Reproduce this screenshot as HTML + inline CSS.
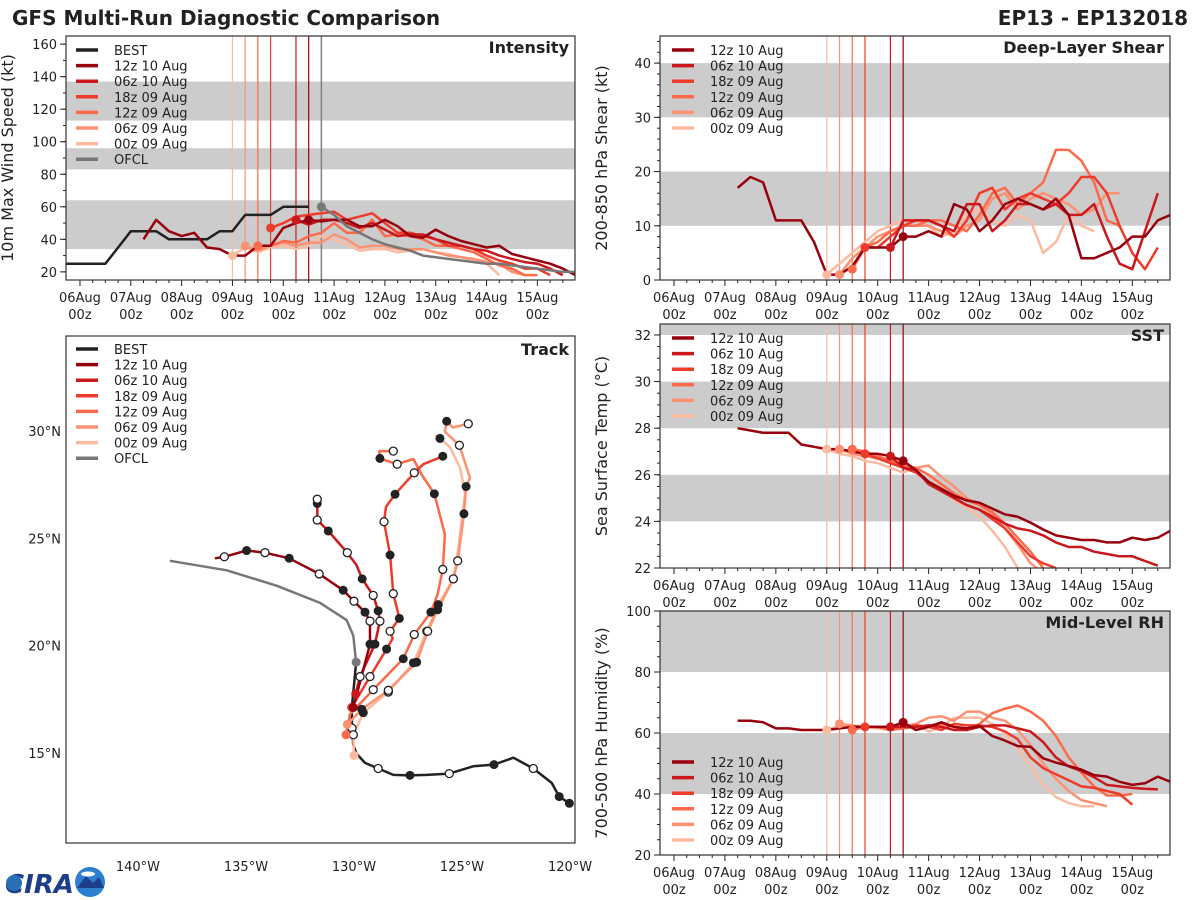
<!DOCTYPE html>
<html><head><meta charset="utf-8">
<style>
html,body{margin:0;padding:0;background:#fff;}
svg{display:block;font-family:"DejaVu Sans","Liberation Sans",sans-serif;}
</style></head>
<body>
<svg id="chart" width="1200" height="900" viewBox="0 0 1200 900" xmlns="http://www.w3.org/2000/svg">
<rect x="0" y="0" width="1200" height="900" fill="#fff"/>
<text x="12" y="25" font-size="20" font-weight="bold" fill="#222">GFS Multi-Run Diagnostic Comparison</text>
<text x="1188" y="25" font-size="20" font-weight="bold" fill="#222" text-anchor="end">EP13 - EP132018</text>
<g>
<text x="5" y="893" font-size="26" font-weight="bold" fill="#1d3f8a" font-style="italic">CIRA</text>
<circle cx="14" cy="883" r="8" fill="#2a6fb4"/>
<circle cx="90" cy="882" r="15" fill="#2d7fcf"/>
<path d="M77 888 L86 876 L93 883 L99 877 L104 888 Z" fill="#1d3f8a"/>
<ellipse cx="88" cy="874" rx="7" ry="2.5" fill="#fff"/>
</g>
</svg>
<script>
// ---------------- DATA ----------------
const runNames = ["12z 10 Aug","06z 10 Aug","18z 09 Aug","12z 09 Aug","06z 09 Aug","00z 09 Aug"];
const runInit = [4.5,4.25,3.75,3.5,3.25,3.0];
const xTickLabels = ["06Aug","07Aug","08Aug","09Aug","10Aug","11Aug","12Aug","13Aug","14Aug","15Aug"];

const bestStart = -0.5;
const bestVmax = [25,25,25,25,25,35,45,45,45,40,40,40,40,45,45,55,55,55,60,60,60];
const ofclStart = 4.75;
const ofclVmax = [60,55,48,44,40,37,35,33,30,29,28,27,26,25,25,24,23,22,21,20,20];
const intStart = [1.25,4.25,3.75,3.5,3.25,3.0];
const int12z10 = [40,52,45,42,44,35,34,30,30,36,36,47,50,52,51,52,52,48,48,52,48,42,41,46,42,39,37,35,36,31,29,27,25,22,18,18];
const int06z10 = [52,49,52,52,50,47,50,46,42,43,43,40,38,36,34,33,30,28,26,25,22,18];
const int18z09 = [47,50,54,55,56,57,52,54,56,50,44,44,42,40,36,36,34,30,27,25,22,22,18];
const int12z09 = [36,36,39,38,42,44,50,44,44,52,42,43,42,40,36,36,34,32,28,24,22,18,18];
const int06z09 = [36,33,36,38,36,38,38,43,40,35,36,36,34,34,34,32,30,29,28,26,25,20,18];
const int00z09 = [30,35,32,35,36,34,36,42,40,37,33,34,34,32,33,34,32,31,29,27,25,18];

const shrStart = [1.25,4.25,3.75,3.5,3.25,3.0];
const shr12z10 = [17,19,18,11,11,11,7,1,1,2.5,6,6,6,8,8,9,8,14,13,9,11,14,15,14,13,15,12,4,4,5,6,8,8,11,12];
const shr06z10 = [6,11,11,11,10,9,14,14,9,11,14,14,13,14,12,12,14,8,3,2,9,16];
const shr18z09 = [6,6,8,10,11,11,10,8,11,16,17,13,15,16,15,14,16,19,19,16,10,5,2,6];
const shr12z09 = [2,6,7,9,10,10,11,11,10,9,12,16,17,14,16,18,24,24,22,18,11,10];
const shr06z09 = [1,4,6,8,9,10,10,10,9,8,10,11,15,16,13,15,16,15,14,12,13,16,16];
const shr00z09 = [1,3,5,7,9,10,11,11,10,8,9,12,13,11,10,12,11,5,7,12,10,9];

const sstStart = [1.25,4.25,3.75,3.5,3.25,3.0];
const sst12z10 = [28.0,27.9,27.8,27.8,27.8,27.3,27.2,27.1,27.1,27.0,26.9,26.9,26.8,26.6,26.2,25.7,25.4,25.1,24.9,24.8,24.55,24.3,24.2,23.95,23.65,23.4,23.3,23.2,23.2,23.1,23.1,23.3,23.2,23.3,23.6];
const sst06z10 = [26.8,26.3,26.2,25.6,25.3,25.0,24.7,24.5,24.2,23.9,23.7,23.6,23.4,23.1,22.9,22.9,22.7,22.6,22.5,22.5,22.3,22.1];
const sst18z09 = [26.9,26.7,26.5,26.3,26.1,25.7,25.4,25.0,24.7,24.5,24.1,23.7,23.1,22.5,22.2,22.0];
const sst12z09 = [27.1,27.0,26.8,26.6,26.4,26.3,26.0,25.6,25.2,24.9,24.7,24.4,23.9,23.3,22.7,22.0];
const sst06z09 = [27.1,26.9,26.8,26.7,26.6,26.4,26.3,26.4,25.9,25.5,25.0,24.7,24.3,23.7,23.0,22.2,21.8];
const sst00z09 = [27.1,26.9,26.8,26.6,26.5,26.3,26.1,26.3,26.0,25.5,24.9,24.6,24.2,23.6,22.9,22.0,21.6];

const rhStart = [1.25,4.25,3.75,3.5,3.25,3.0];
const rh12z10 = [64,64,63.5,61.5,61.5,61,61,61,61.5,62,62,62,62,63.5,61,62,63.5,62,61.5,62.3,59,57.5,55.7,55.5,51.7,50.3,49.2,48,46.2,45.7,44,43,43.5,45.7,44];
const rh06z10 = [62,62,62,62.5,62,61,61,62,62.5,62.5,61.5,60.5,57,52,49,47.5,45.5,43,42.5,42,41.7,41.5];
const rh18z09 = [62,62,62,62,62.5,62,61,63,62.5,62.5,62,60.5,58,52,48.5,46.5,44.5,42.5,42,41,40,36.5];
const rh12z09 = [61,62,62,61,61.5,62,62.5,63,62,61,63,66.5,68,69,67,64,59,52,47,42.5,39.5,39.5,40];
const rh06z09 = [63,62.5,62,62,61.5,62,63,65,65.5,64,67,67,65,64,61,56,50,45,41,38,37,36];
const rh00z09 = [61,62.5,62.5,62,61.5,61,62,63,60.5,62,65,65,65,63,60,55,49,43,39,37,36,36];

const trackBest = [[-120.03,12.66,1],[-120.5,12.97,1],[-120.85,13.61,0],[-121.7,14.28,2],[-122.62,14.78,0],[-123.52,14.46,1],[-124.48,14.38,0],[-125.59,14.04,2],[-126.63,13.98,0],[-127.41,13.96,1],[-128.18,13.98,0],[-128.88,14.28,2],[-129.49,14.54,0],[-129.88,14.97,0],[-130.03,15.37,0],[-130.09,16.16,2],[-130.1,17.12,1],[-130.0,18.16,0],[-129.9,19.23,0]];
const trackOfcl = [[-129.9,19.23,3],[-130.03,20.47,0],[-130.34,21.19,0],[-131.57,21.99,0],[-133.58,22.79,0],[-135.89,23.51,0],[-138.52,23.95,0]];
const track12z10 = [[-130.03,17.12,3],[-129.26,20.07,1],[-129.26,21.14,2],[-129.49,21.56,1],[-130.0,22.07,2],[-130.5,22.58,1],[-131.61,23.34,2],[-133.0,24.07,1],[-134.12,24.33,2],[-134.97,24.43,1],[-136.0,24.14,2],[-136.44,24.07,0]];
const track06z10 = [[-129.92,17.76,3],[-129.72,18.56,2],[-129.03,20.07,1],[-128.8,21.14,2],[-128.88,21.62,1],[-129.11,22.34,2],[-129.62,23.11,1],[-129.88,23.74,0],[-130.31,24.33,2],[-131.19,25.34,1],[-131.7,25.85,2],[-131.7,26.62,1],[-131.7,26.82,2]];
const track18z09 = [[-130.11,17.12,3],[-129.26,18.56,2],[-128.49,19.84,1],[-128.21,20.34,0],[-128.33,20.67,2],[-127.9,21.27,1],[-128.18,22.42,2],[-128.33,24.22,1],[-128.61,25.77,2],[-128.52,26.46,0],[-128.1,27.05,1],[-127.21,28.05,2],[-126.79,28.45,0],[-125.89,28.82,1]];
const track12z09 = [[-130.37,15.85,3],[-130.19,16.8,0],[-129.11,17.95,2],[-127.72,19.39,1],[-127.21,20.52,2],[-126.44,21.56,1],[-126.13,22.39,0],[-125.89,23.55,2],[-125.79,25.18,0],[-126.28,27.07,1],[-126.87,27.97,0],[-127.25,28.69,0],[-128.0,28.45,2],[-128.8,28.72,1],[-128.83,29.06,0],[-128.18,29.06,2]];
const track06z09 = [[-130.31,16.33,3],[-129.64,17.04,1],[-128.41,17.92,2],[-127.1,19.23,1],[-126.59,20.67,2],[-126.13,21.67,1],[-125.4,23.11,2],[-125.2,23.95,2],[-124.91,26.14,1],[-124.81,27.41,1],[-124.63,27.81,0],[-125.12,29.33,2],[-125.79,29.97,0],[-125.71,30.45,1],[-125.43,30.16,0],[-124.71,30.33,2]];
const track00z09 = [[-130.0,14.89,3],[-130.03,15.85,2],[-129.57,16.88,1],[-128.41,17.84,2],[-127.25,19.2,1],[-126.63,20.67,2],[-126.1,21.91,1],[-125.4,23.11,2],[-125.25,23.95,0],[-124.86,27.09,0],[-125.09,28.29,0],[-125.56,29.25,0],[-126.02,29.65,1],[-126.25,29.76,0]];
const lonTicks = [-140,-135,-130,-125,-120];
const latTicks = [15,20,25,30];

// ---------------- STYLE ----------------
const runColors = ["#99000d","#cb181d","#ef3b2c","#fb6a4a","#fc9272","#fcbba1"];
const NS = "http://www.w3.org/2000/svg";
const svg = document.getElementById("chart");
function mk(tag, attrs, parent){ const e=document.createElementNS(NS,tag); for(const k in attrs) e.setAttribute(k,attrs[k]); (parent||svg).appendChild(e); return e; }
const T0=-0.275, T1=9.74;

function panel(name, x0,x1,y0,y1, ymin,ymax, bands, yticks, yminor, ylabel, title){
  const g = mk("g",{});
  
  
  const cid = name+"-clip";
  const cp = mk("clipPath",{id:cid},g); mk("rect",{x:x0,y:y0,width:x1-x0,height:y1-y0},cp);
  const sx = t => x0 + (t-T0)/(T1-T0)*(x1-x0);
  const sy = v => y1 - (v-ymin)/(ymax-ymin)*(y1-y0);
  bands.forEach(b=>{
    const r = mk("rect",{x:x0,y:sy(Math.min(b[1],ymax)),width:x1-x0,height:sy(b[0])-sy(Math.min(b[1],ymax)),fill:"#cccccc"},g);
    
    
  });
  for(let v=Math.ceil(ymin/yminor)*yminor; v<=ymax+1e-6; v+=yminor){ mk("line",{x1:x0-3,x2:x0,y1:sy(v),y2:sy(v),stroke:"#222","stroke-width":1},g); }
  yticks.forEach(v=>{
    mk("line",{x1:x0-6,x2:x0,y1:sy(v),y2:sy(v),stroke:"#222","stroke-width":1},g);
    const t = mk("text",{x:x0-9,y:sy(v)+5,"font-size":13,"text-anchor":"end",fill:"#222"},g); t.textContent=v;
    
    
  });
  for(let d=0; d<=9.7; d+=0.25){ const big = Math.abs(d-Math.round(d))<1e-6; mk("line",{x1:sx(d),x2:sx(d),y1:y1,y2:y1+(big?6:3),stroke:"#222","stroke-width":1},g); }
  xTickLabels.forEach((lab,i)=>{
    const t = mk("text",{x:sx(i),y:y1+22,"font-size":13,"text-anchor":"middle",fill:"#222"},g); t.textContent=lab;
    
    
    const t2 = mk("text",{x:sx(i),y:y1+39,"font-size":13,"text-anchor":"middle",fill:"#222"},g); t2.textContent="00z";
    
    
  });
  const yl = mk("text",{x:0,y:0,"font-size":16,"text-anchor":"middle",fill:"#222",transform:`translate(${x0-53},${(y0+y1)/2}) rotate(-90)`},g); yl.textContent=ylabel;
  
  
  const tt = mk("text",{x:x1-6,y:y0+17,"font-size":16,"font-weight":"bold","text-anchor":"end",fill:"#222"},g); tt.textContent=title;
  
  
  const plot = mk("g",{"clip-path":`url(#${cid})`},g);
  return {g,plot,sx,sy,x0,x1,y0,y1};
}
function series(P, start, vals, color, w, nm){
  const pts = vals.map((v,i)=>`${P.sx(start+i*0.25).toFixed(1)},${P.sy(v).toFixed(1)}`).join(" ");
  const pl = mk("polyline",{points:pts,fill:"none",stroke:color,"stroke-width":w,"stroke-linejoin":"round"},P.plot);
  
  
}
function initDot(P, t, v, color, nm){
  const c = mk("circle",{cx:P.sx(t),cy:P.sy(v),r:4.5,fill:color},P.plot);
  
  
}
function vlines(P, withOfcl){
  runInit.forEach((t,i)=>{
    const l = mk("line",{x1:P.sx(t),x2:P.sx(t),y1:P.y0,y2:P.y1,stroke:runColors[i],"stroke-width":1.2},P.plot);
    
    
  });
  if(withOfcl){
    const l = mk("line",{x1:P.sx(4.75),x2:P.sx(4.75),y1:P.y0,y2:P.y1,stroke:"#808080","stroke-width":1.5},P.plot);
    
    
  }
}
function frame(P){ mk("rect",{x:P.x0,y:P.y0,width:P.x1-P.x0,height:P.y1-P.y0,fill:"none",stroke:"#333","stroke-width":1.2},P.g); }
function legend(g, x, y, entries){
  entries.forEach((e,i)=>{
    const yy = y + i*15.6;
    const ln = mk("line",{x1:x,x2:x+22,y1:yy,y2:yy,stroke:e[1],"stroke-width":3.5},g);
    
    
    const t = mk("text",{x:x+38,y:yy+5,"font-size":13,fill:"#222"},g); t.textContent=e[0];
    
    
  });
}
const runLegend = runNames.map((n,i)=>[n,runColors[i]]);

// ---------------- INTENSITY ----------------
const PI = panel("intensity",66,575,36,280,15,165,[[34,64],[83,96],[113,137]],[20,40,60,80,100,120,140,160],10,"10m Max Wind Speed (kt)","Intensity");
vlines(PI,true);
const intRuns=[int12z10,int06z10,int18z09,int12z09,int06z09,int00z09];
series(PI,bestStart,bestVmax,"#222",2.5,"best-intensity-line");
for(let i=5;i>=0;i--) series(PI,intStart[i],intRuns[i],runColors[i],2.5,"intensity-run-line");
series(PI,ofclStart,ofclVmax,"#777",2.5,"ofcl-intensity-line");
for(let i=5;i>=0;i--){ const k=Math.round((runInit[i]-intStart[i])/0.25); initDot(PI,runInit[i],intRuns[i][k],runColors[i],"intensity-init-dot"); }
initDot(PI,ofclStart,ofclVmax[0],"#777","ofcl-init-dot");
frame(PI);
legend(PI.g,76,50,[["BEST","#222"],...runLegend,["OFCL","#777"]]);

// ---------------- SHEAR ----------------
const PS = panel("shear",660,1170,36,280,0,45,[[10,20],[30,40]],[0,10,20,30,40],2,"200-850 hPa Shear (kt)","Deep-Layer Shear");
vlines(PS,false);
const shrRuns=[shr12z10,shr06z10,shr18z09,shr12z09,shr06z09,shr00z09];
for(let i=5;i>=0;i--) series(PS,shrStart[i],shrRuns[i],runColors[i],2.5,"shear-run-line");
for(let i=5;i>=0;i--){ const k=Math.round((runInit[i]-shrStart[i])/0.25); initDot(PS,runInit[i],shrRuns[i][k],runColors[i],"shear-init-dot"); }
frame(PS);
legend(PS.g,672,50,runLegend);

// ---------------- SST ----------------
const PT = panel("sst",660,1170,324,568,22,32.47,[[24,26],[28,30],[32,34]],[22,24,26,28,30,32],0.5,"Sea Surface Temp (\u00b0C)","SST");
vlines(PT,false);
const sstRuns=[sst12z10,sst06z10,sst18z09,sst12z09,sst06z09,sst00z09];
for(let i=5;i>=0;i--) series(PT,sstStart[i],sstRuns[i],runColors[i],2.5,"sst-run-line");
for(let i=5;i>=0;i--){ const k=Math.round((runInit[i]-sstStart[i])/0.25); initDot(PT,runInit[i],sstRuns[i][k],runColors[i],"sst-init-dot"); }
frame(PT);
legend(PT.g,672,338,runLegend);

// ---------------- RH ----------------
const PR = panel("rh",660,1170,611,855,20,100,[[40,60],[80,100]],[20,40,60,80,100],5,"700-500 hPa Humidity (%)","Mid-Level RH");
vlines(PR,false);
const rhRuns=[rh12z10,rh06z10,rh18z09,rh12z09,rh06z09,rh00z09];
for(let i=5;i>=0;i--) series(PR,rhStart[i],rhRuns[i],runColors[i],2.5,"rh-run-line");
for(let i=5;i>=0;i--){ const k=Math.round((runInit[i]-rhStart[i])/0.25); initDot(PR,runInit[i],rhRuns[i][k],runColors[i],"rh-init-dot"); }
frame(PR);
legend(PR.g,672,762,runLegend);

// ---------------- TRACK ----------------
(function(){
  const x0=66,x1=575,y0=336,y1=843;
  const LON0=-143.33, LON1=-119.77, LAT0=10.81, LAT1=34.42;
  const sx = lon => x0 + (lon-LON0)/(LON1-LON0)*(x1-x0);
  const sy = lat => y1 - (lat-LAT0)/(LAT1-LAT0)*(y1-y0);
  const g = mk("g",{});
  
  
  const cp = mk("clipPath",{id:"trk-clip"},g); mk("rect",{x:x0,y:y0,width:x1-x0,height:y1-y0},cp);
  const plot = mk("g",{"clip-path":"url(#trk-clip)"},g);
  function trk(data,color,nm){
    const pts=data.map(p=>`${sx(p[0]).toFixed(1)},${sy(p[1]).toFixed(1)}`).join(" ");
    const pl = mk("polyline",{points:pts,fill:"none",stroke:color,"stroke-width":2.5,"stroke-linejoin":"round"},plot);
    
    
  }
  function marks(data,color){
    data.forEach(p=>{
      if(!p[2]) return;
      let c;
      if(p[2]===1) c = mk("circle",{cx:sx(p[0]),cy:sy(p[1]),r:4.5,fill:"#222"},plot);
      else if(p[2]===2) c = mk("circle",{cx:sx(p[0]),cy:sy(p[1]),r:4,fill:"#fff",stroke:"#222","stroke-width":1.3},plot);
      else c = mk("circle",{cx:sx(p[0]),cy:sy(p[1]),r:4.5,fill:color},plot);
      
      
    });
  }
  const tracks=[track12z10,track06z10,track18z09,track12z09,track06z09,track00z09];
  trk(trackBest,"#222","best-track-line");
  trk(trackOfcl,"#777","ofcl-track-line");
  for(let i=5;i>=0;i--) trk(tracks[i],runColors[i],"run-track-line");
  marks(trackBest,"#222");
  for(let i=5;i>=0;i--) marks(tracks[i],runColors[i]);
  marks(trackOfcl,"#777");
  mk("rect",{x:x0,y:y0,width:x1-x0,height:y1-y0,fill:"none",stroke:"#333","stroke-width":1.2},g);
  lonTicks.forEach(l=>{
    const t = mk("text",{x:sx(l),y:871,"font-size":13,"text-anchor":"middle",fill:"#222"},g); t.textContent=Math.abs(l)+"\u00b0W";
    
    
  });
  latTicks.forEach(l=>{
    const t = mk("text",{x:x0-5,y:sy(l)+5,"font-size":13,"text-anchor":"end",fill:"#222"},g); t.textContent=l+"\u00b0N";
    
    
  });
  const tt = mk("text",{x:x1-6,y:y0+19,"font-size":16,"font-weight":"bold","text-anchor":"end",fill:"#222"},g); tt.textContent="Track";
  
  
  legend(g,76,349,[["BEST","#222"],...runLegend,["OFCL","#777"]]);
})();
</script>
</body></html>
